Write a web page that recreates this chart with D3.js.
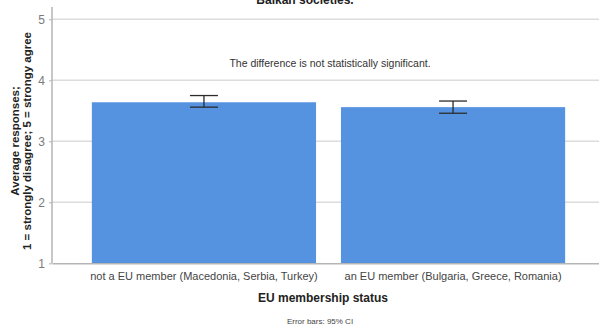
<!DOCTYPE html>
<html>
<head>
<meta charset="utf-8">
<script src="https://cdn.jsdelivr.net/npm/d3@7"></script>
<style>
  body { margin: 0; background: #fff; }
  text { font-family: "Liberation Sans", Arial, sans-serif; }
</style>
</head>
<body>
<div id="chart"></div>
<script>
(function barchart() {

  // data
  var categories = ["not a EU member (Macedonia, Serbia, Turkey)", "an EU member (Bulgaria, Greece, Romania)"];
  var means = [3.64, 3.56];
  var ciLow = [3.56, 3.46];
  var ciHigh = [3.75, 3.66];
  var yTicks = [1, 2, 3, 4, 5];

  var margin = { top: 19.3, right: -6, bottom: 63.7, left: 52 },
    width = 599 - margin.left - margin.right,
    height = 327 - margin.top - margin.bottom;

  var x = d3.scaleBand()
    .domain(categories)
    .range([0, width])
    .paddingInner(0.1)
    .paddingOuter(0.16);

  var y = d3.scaleLinear()
    .domain([1, 5])
    .range([height, 0]);

  var svg = d3.select("#chart").append("svg")
    .attr("width", 599)
    .attr("height", 327);

  var g = svg.append("g")
    .attr("transform", "translate(" + margin.left + "," + margin.top + ")");

  // gridlines
  g.append("g")
    .selectAll("line")
    .data(yTicks.slice(1))
    .enter().append("line")
    .attr("x1", 0)
    .attr("x2", width)
    .attr("y1", function(d) { return y(d); })
    .attr("y2", function(d) { return y(d); })
    .attr("stroke", "#dcdcdc")
    .attr("stroke-width", 1.5);

  // bars
  g.selectAll(".bar")
    .data(categories)
    .enter().append("rect")
    .attr("class", "bar")
    .attr("x", function(d) { return x(d); })
    .attr("width", x.bandwidth())
    .attr("y", function(d, i) { return y(means[i]); })
    .attr("height", function(d, i) { return y(1) - y(means[i]); })
    .attr("fill", "#5592e0");

  // error bars
  var capW = 14;
  var eb = g.selectAll(".err")
    .data(categories)
    .enter().append("g")
    .attr("class", "err")
    .attr("stroke", "#2b2b2b")
    .attr("stroke-width", 1.3);

  eb.append("line")
    .attr("x1", function(d) { return x(d) + x.bandwidth() / 2; })
    .attr("x2", function(d) { return x(d) + x.bandwidth() / 2; })
    .attr("y1", function(d, i) { return y(ciLow[i]); })
    .attr("y2", function(d, i) { return y(ciHigh[i]); });

  eb.append("line")
    .attr("x1", function(d) { return x(d) + x.bandwidth() / 2 - capW; })
    .attr("x2", function(d) { return x(d) + x.bandwidth() / 2 + capW; })
    .attr("y1", function(d, i) { return y(ciHigh[i]); })
    .attr("y2", function(d, i) { return y(ciHigh[i]); });

  eb.append("line")
    .attr("x1", function(d) { return x(d) + x.bandwidth() / 2 - capW; })
    .attr("x2", function(d) { return x(d) + x.bandwidth() / 2 + capW; })
    .attr("y1", function(d, i) { return y(ciLow[i]); })
    .attr("y2", function(d, i) { return y(ciLow[i]); });

  // y axis
  var yAxis = g.append("g")
    .call(d3.axisLeft(y).tickValues(yTicks).tickSize(3).tickPadding(4).tickFormat(d3.format("d")));
  yAxis.select(".domain").remove();
  yAxis.selectAll(".tick line").attr("stroke", "#b5b5b5");
  yAxis.selectAll("text")
    .attr("fill", "#7a7a7a")
    .style("font-size", "12px");

  g.append("line")
    .attr("x1", 0).attr("x2", 0)
    .attr("y1", y(5.2)).attr("y2", height)
    .attr("stroke", "#b5b5b5")
    .attr("stroke-width", 1.5);

  // x axis
  var xAxis = g.append("g")
    .attr("transform", "translate(0," + height + ")")
    .call(d3.axisBottom(x).tickSize(0).tickPadding(9));
  xAxis.select(".domain")
    .attr("stroke", "#b5b5b5")
    .attr("stroke-width", 1.5);
  xAxis.selectAll("text")
    .attr("fill", "#444")
    .style("font-size", "11px");

  // titles
  svg.append("text")
    .text("Balkan societies.")
    .attr("x", 305)
    .attr("y", 4)
    .attr("text-anchor", "middle")
    .style("font-size", "12px")
    .style("font-weight", "bold")
    .attr("fill", "#222");

  svg.append("text")
    .text("The difference is not statistically significant.")
    .attr("x", 330)
    .attr("y", 67)
    .attr("text-anchor", "middle")
    .style("font-size", "10.5px")
    .attr("fill", "#333");

  svg.append("text")
    .text("EU membership status")
    .attr("x", 323)
    .attr("y", 302)
    .attr("text-anchor", "middle")
    .style("font-size", "12px")
    .style("font-weight", "bold")
    .attr("fill", "#222");

  svg.append("text")
    .text("Error bars: 95% CI")
    .attr("x", 320)
    .attr("y", 324)
    .attr("text-anchor", "middle")
    .style("font-size", "8px")
    .attr("fill", "#444");

  var ylab = svg.append("text")
    .attr("transform", "translate(0,141) rotate(-90)")
    .attr("text-anchor", "middle")
    .style("font-size", "11.5px")
    .style("font-weight", "bold")
    .attr("fill", "#222");
  ylab.append("tspan").attr("x", 0).attr("y", 19).text("Average responses;");
  ylab.append("tspan").attr("x", 0).attr("y", 31).text("1 = strongly disagree; 5 = strongy agree");
})();
</script>
</body>
</html>
